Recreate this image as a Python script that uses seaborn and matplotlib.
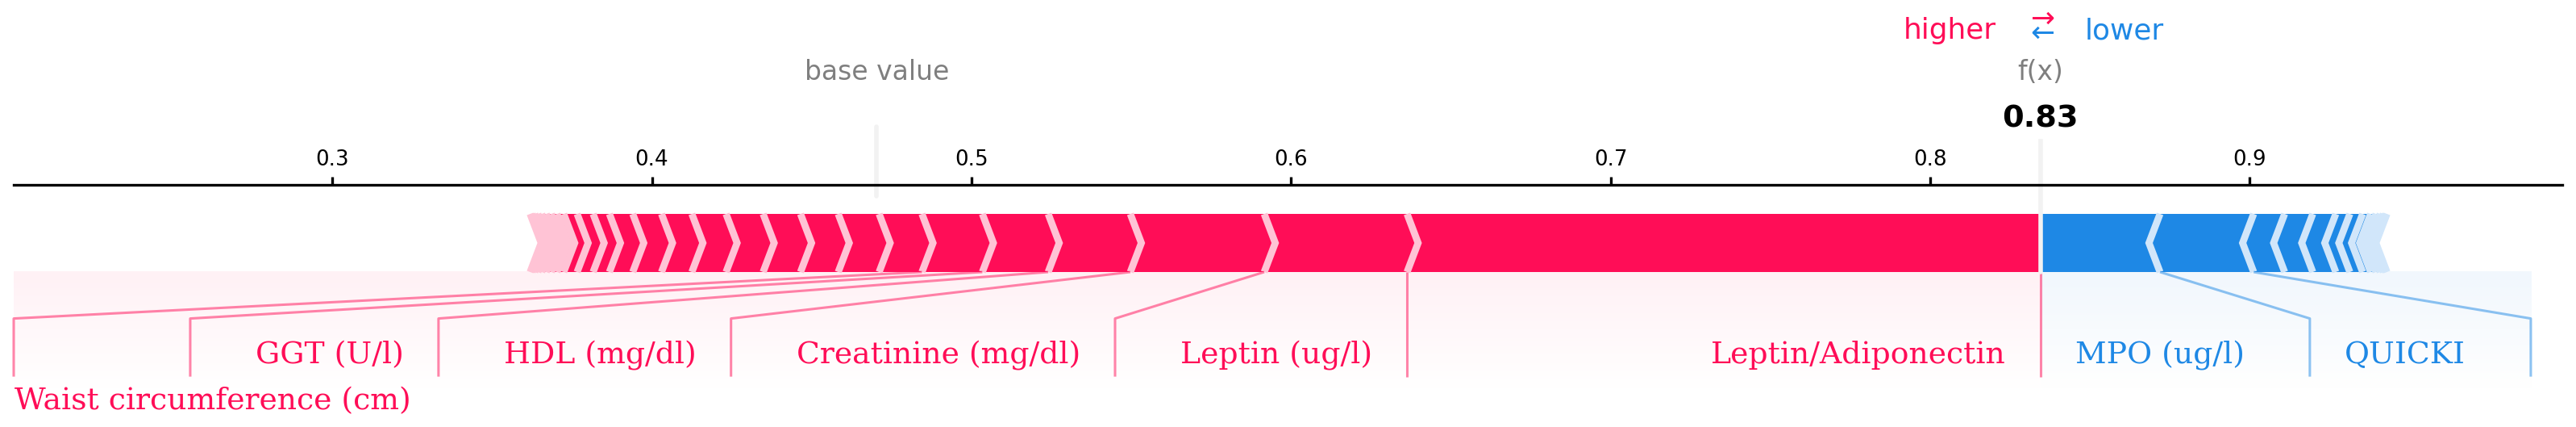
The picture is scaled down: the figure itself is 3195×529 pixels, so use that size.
import numpy as np
import matplotlib
matplotlib.use("Agg")
import matplotlib.pyplot as plt
import seaborn as sns
from matplotlib.colors import LinearSegmentedColormap

# ---------------- data ----------------
base_value = 0.4703
output_name = "f(x)"

pos_names = ["Leptin/Adiponectin", "Leptin (ug/l)", "Creatinine (mg/dl)",
             "HDL (mg/dl)", "GGT (U/l)", "Waist circumference (cm)"]
pos_effects = [0.1982, 0.0447, 0.0419, 0.0257, 0.0206, 0.0189, 0.0134, 0.0128,
               0.0118, 0.0117, 0.0116, 0.0107, 0.0095, 0.0090, 0.0073, 0.0051,
               0.0050, 0.0042, 0.0021, 0.0018, 0.0016, 0.0014, 0.0012, 0.0010,
               0.0008, 0.0006]

neg_names = ["MPO (ug/l)", "QUICKI"]
neg_effects = [0.0374, 0.0293, 0.0097, 0.0088, 0.0072, 0.0044, 0.0040, 0.0025,
               0.0017, 0.0013, 0.0010, 0.0007, 0.0004]

tick_values = [0.3, 0.4, 0.5, 0.6, 0.7, 0.8, 0.9]

# ---------------- style ----------------
sns.set_theme(style="white")
plt.rcParams['font.family'] = ['DejaVu Sans']

POS_COL, POS_LIGHT, POS_SHADE = '#FF0D57', '#FFC3D5', '#FFF1F5'
NEG_COL, NEG_LIGHT, NEG_SHADE = '#1E88E5', '#D1E6FA', '#F1F7FD'
LABEL_FS = 27.2
TEXT_FS = 23.8
MIN_PERC = 0.05

# ---------------- derived (shap-like) ----------------
out_value = base_value + sum(pos_effects) - sum(neg_effects)
pos_bounds = out_value - np.cumsum(pos_effects)
neg_bounds = out_value + np.cumsum(neg_effects)
total_pos = pos_bounds.max() - pos_bounds.min()
total_neg = neg_bounds.max() - neg_bounds.min()
total_effect = total_pos + total_neg
offset_text = total_effect * 0.04
padding = max(total_pos, total_neg) * 0.2
x_max = max(neg_bounds.max(), base_value) + padding
x_min_bars = min(pos_bounds.min(), base_value) - padding
sep_w = (x_max - x_min_bars) / 200
X_MIN = 0.2003
width_bar = 0.1

fig = plt.figure(figsize=(31.95, 5.29), dpi=100)
ax = fig.add_axes([17 / 3195, -0.3176, 3161 / 3195, 0.8847])
ax.set_xlim(X_MIN, x_max)
ax.set_ylim(-0.5, 0.15)


def draw_bars(bounds, kind):
    pre = out_value
    rects, seps = [], []
    for i, b in enumerate(bounds):
        if kind == 'pos':
            left, right = b, pre
            ind = sep_w
            sep_x = left
            cols = (POS_COL, POS_LIGHT)
        else:
            left, right = pre, b
            ind = -sep_w
            sep_x = right
            cols = (NEG_COL, NEG_LIGHT)
        pre = b
        if i == 0:
            if kind == 'pos':
                pts = [[left, 0], [right, 0], [right, width_bar], [left, width_bar],
                       [left + ind, width_bar / 2]]
            else:
                pts = [[right, 0], [left, 0], [left, width_bar], [right, width_bar],
                       [right + ind, width_bar / 2]]
        else:
            pts = [[left, 0], [right, 0], [right + ind * 0.9, width_bar / 2],
                   [right, width_bar], [left, width_bar], [left + ind * 0.9, width_bar / 2]]
        rects.append(plt.Polygon(pts, closed=True, fill=True, facecolor=cols[0], linewidth=0))
        seps.append(plt.Polygon([[sep_x, 0], [sep_x + ind, width_bar / 2], [sep_x, width_bar]],
                                closed=False, fill=False, edgecolor=cols[1], lw=6.3))
    for r in rects:
        ax.add_patch(r)
    for s in seps:
        ax.add_patch(s)


draw_bars(neg_bounds, 'neg')
draw_bars(pos_bounds, 'pos')

fig.canvas.draw()
renderer = fig.canvas.get_renderer()
inv = ax.transData.inverted()


def x_extent(t):
    bb = t.get_window_extent(renderer)
    (x0, _), (x1, _) = inv.transform([[bb.x0, bb.y0], [bb.x1, bb.y1]])
    return x0, x1


GAP_TEXT = 0.0108
GAP_KINK = 0.0205
LABEL_Y = -0.157
LABEL_Y2 = -0.237
LINE_KW = dict(lw=2.2, alpha=0.5, solid_capstyle='butt')


def draw_labels(names, effects, bounds, kind):
    col = POS_COL if kind == 'pos' else NEG_COL
    sign = 1 if kind == 'pos' else -1
    ha = 'right' if kind == 'pos' else 'left'
    if kind == 'pos':
        l, = ax.plot([out_value, out_value], [0, -0.18], color=col, **LINE_KW)
        l.set_clip_on(False)
    start = out_value
    box_end = out_value
    for name, eff, b in zip(names, effects, bounds):
        if abs(eff) / total_effect < MIN_PERC:
            break
        t = ax.text(start - sign * GAP_TEXT, LABEL_Y, name, ha=ha, va='baseline',
                    color=col, fontsize=LABEL_FS, family='DejaVu Serif')
        x0, x1 = x_extent(t)
        edge = x0 if kind == 'pos' else x1
        if kind == 'pos' and edge - GAP_KINK < X_MIN:
            t.set_position((X_MIN + 0.0003, LABEL_Y2))
            t.set_horizontalalignment('left')
            box_end = X_MIN
            l, = ax.plot([b, box_end, box_end], [0, -0.08, -0.18], color=col, **LINE_KW)
            start = box_end
        elif sign * edge > sign * b:
            l, = ax.plot([b, b], [0, -0.18], color=col, **LINE_KW)
            start = b
            box_end = b
        else:
            box_end = edge - sign * GAP_KINK
            l, = ax.plot([b, box_end, box_end], [0, -0.08, -0.18], color=col, **LINE_KW)
            start = box_end
        l.set_clip_on(False)
    shade = POS_SHADE if kind == 'pos' else NEG_SHADE
    cm = LinearSegmentedColormap.from_list('shade_' + kind, [shade, '#FFFFFF'])
    grad = np.linspace(0, 1, 200).reshape(-1, 1)
    lo, hi = sorted([box_end, out_value])
    ax.imshow(grad, extent=[lo, hi, -0.2, 0], origin='upper', cmap=cm,
              aspect='auto', zorder=0, interpolation='bilinear')


draw_labels(neg_names, neg_effects, neg_bounds, 'neg')
draw_labels(pos_names, pos_effects, pos_bounds, 'pos')

# higher / lower legend
ax.text(out_value - offset_text, 0.401, 'higher', fontsize=25.8, color=POS_COL, ha='right')
ax.text(out_value + offset_text, 0.401, 'lower', fontsize=25.8, color=NEG_COL, ha='left')
ax.text(out_value, 0.398, r'$\leftarrow$', fontsize=25.8, color=NEG_COL, ha='center')
ax.text(out_value, 0.423, r'$\rightarrow$', fontsize=25.8, color=POS_COL, ha='center')

# base value
l, = ax.plot([base_value, base_value], [0.13, 0.25], lw=4, color='#F2F2F2')
l.set_clip_on(False)
t = ax.text(base_value, 0.33, 'base value', fontsize=TEXT_FS, alpha=0.5, ha='center', color='black')
t.set_bbox(dict(facecolor='white', edgecolor='white'))

# output value
l, = ax.plot([out_value, out_value], [0, 0.24], lw=4, color='#F2F2F2')
l.set_clip_on(False)
t = ax.text(out_value, 0.25, '{0:.2f}'.format(out_value), fontweight='bold',
            fontsize=27.5, ha='center', color='black')
t.set_bbox(dict(facecolor='white', edgecolor='white'))
t = ax.text(out_value, 0.33, output_name, fontsize=TEXT_FS, alpha=0.5, ha='center', color='black')
t.set_bbox(dict(facecolor='white', edgecolor='white'))

# axis
ax.set_xlim(X_MIN, x_max)
ax.set_ylim(-0.5, 0.15)
ax.set_xticks(tick_values)
ax.set_xticklabels([f"{v:.1f}" for v in tick_values])
ax.set_yticks([])
ax.tick_params(axis='x', top=True, bottom=False, labeltop=True, labelbottom=False,
               direction='out', length=7.4, width=2.4, labelsize=18.8, pad=5.8,
               color='black', labelcolor='black')
for key, sp in ax.spines.items():
    if key != 'top':
        sp.set_visible(False)
    else:
        sp.set_linewidth(2.4)
        sp.set_color('black')
ax.set_facecolor('white')
ax.grid(False)

fig.savefig('out.png', dpi=100, facecolor='white')
